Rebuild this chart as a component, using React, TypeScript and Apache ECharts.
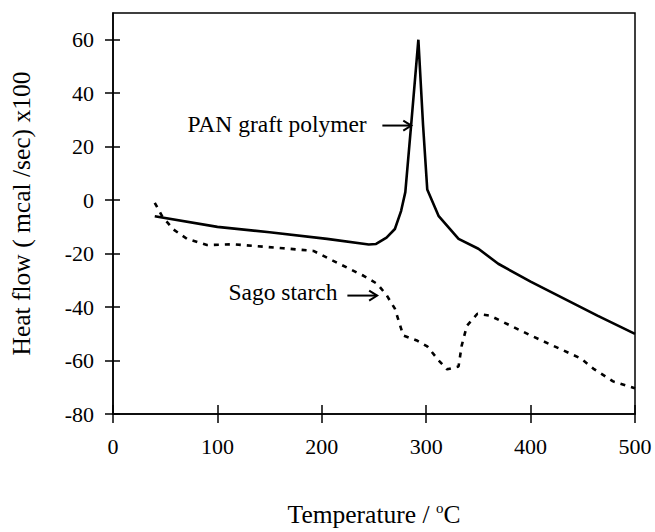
import React, { useEffect, useRef } from "react";
import * as echarts from "echarts";

// Temperature (°C) vs heat flow (mcal/sec x100)
const panTemp = [40, 100, 150, 205, 245, 252, 262, 270, 276, 280, 286, 292.5, 297, 301, 312, 331, 350, 369, 400, 464, 500];
const panFlow = [-6, -10, -12, -14.5, -16.6, -16.4, -14, -10.8, -4, 3, 30, 60, 28, 4, -6, -14.5, -18.2, -23.8, -30.5, -43.2, -50];

const sagoTemp = [40, 47, 58, 71, 90, 115, 163, 192, 211, 240, 253, 262, 270, 278, 291, 301, 312, 320, 331, 334, 339, 349, 361, 400, 448, 460, 479, 500];
const sagoFlow = [-1, -6, -11, -14.5, -16.8, -16.5, -18, -19, -22.7, -28.3, -31.3, -35.5, -40.6, -50.6, -52.5, -54.7, -60, -63.3, -62.2, -54.4, -47, -42.5, -43.2, -50.6, -59.2, -63, -67.8, -70.4];

const xTicks = [0, 100, 200, 300, 400, 500];
const yTicks = [-80, -60, -40, -20, 0, 20, 40, 60];

// annotations: label text, label anchor (right-middle), arrow from -> to (data coords)
const annLabels = ["PAN graft polymer", "Sago starch"];
const annTextAt = [[243, 28.3], [215, -34.3]];
const annArrowFrom = [[258, 27.9], [224.5, -35.7]];
const annArrowTo = [[285.7, 27.9], [253, -35.7]];

const FONT = '"Liberation Serif", "Times New Roman", serif';

export default function App() {
  const ref = useRef<HTMLDivElement>(null);
  useEffect(() => {
    const chart = echarts.init(ref.current!, null, { renderer: "svg" });
    const zip = (a: number[], b: number[]) => a.map((v, i) => [v, b[i]]);
    const baseX = { type: "value", min: xTicks[0], max: xTicks[xTicks.length - 1], interval: 100 };
    const baseY = { type: "value", min: -80, max: 70, interval: 20 };
    chart.setOption({
      animation: false,
      backgroundColor: "#fff",
      grid: { left: 113, right: 20, top: 13, bottom: 116, show: true, borderColor: "#000", borderWidth: 1.5, backgroundColor: "transparent" },
      xAxis: [
        {
          ...baseX,
          position: "bottom",
          name: "{a|Temperature / }{s|o}{a|C}",
          nameLocation: "middle",
          nameGap: 86,
          nameTextStyle: {
            rich: {
              a: { fontFamily: FONT, fontSize: 25.5, color: "#000" },
              s: { fontFamily: FONT, fontSize: 15, color: "#000", padding: [0, 0, 13, 0] },
            },
          },
          axisLine: { show: true, onZero: false, lineStyle: { color: "#000", width: 1.5 } },
          axisTick: { show: true, inside: false, length: 9, lineStyle: { color: "#000", width: 1.5 } },
          axisLabel: { color: "#000", fontFamily: FONT, fontSize: 22, margin: 21, formatter: (v: number) => (xTicks.includes(v) ? String(v) : "") },
          splitLine: { show: false },
        },
        {
          ...baseX,
          position: "bottom",
          axisLine: { show: false, onZero: false },
          axisTick: { show: true, inside: true, length: 9, lineStyle: { color: "#000", width: 1.5 } },
          axisLabel: { show: false },
          splitLine: { show: false },
        },
      ],
      yAxis: [
        {
          ...baseY,
          position: "left",
          name: "Heat flow ( mcal /sec) x100",
          nameLocation: "middle",
          nameGap: 79,
          nameTextStyle: { fontFamily: FONT, fontSize: 25.5, color: "#000" },
          axisLine: { show: true, onZero: false, lineStyle: { color: "#000", width: 1.5 } },
          axisTick: { show: true, inside: false, length: 8, customValues: yTicks, lineStyle: { color: "#000", width: 1.5 } },
          axisLabel: { color: "#000", fontFamily: FONT, fontSize: 22, margin: 19, customValues: yTicks, formatter: (v: number) => (yTicks.includes(v) ? String(v) : "") },
          splitLine: { show: false },
        },
        {
          ...baseY,
          position: "left",
          axisLine: { show: false, onZero: false },
          axisTick: { show: true, inside: true, length: 7, customValues: yTicks, lineStyle: { color: "#000", width: 1.5 } },
          axisLabel: { show: false },
          splitLine: { show: false },
        },
      ],
      series: [
        {
          name: "PAN graft polymer",
          type: "line",
          data: zip(panTemp, panFlow),
          showSymbol: false,
          symbol: "none",
          lineStyle: { color: "#000", width: 2.6 },
        },
        {
          name: "Sago starch",
          type: "line",
          data: zip(sagoTemp, sagoFlow),
          showSymbol: false,
          symbol: "none",
          lineStyle: { color: "#000", width: 2.6, type: [5, 6] },
        },
      ],
    });

    const px = (p: number[]) => chart.convertToPixel({ gridIndex: 0 }, p) as number[];
    const graphic: any[] = [];
    annLabels.forEach((label, i) => {
      const t = px(annTextAt[i]);
      const a = px(annArrowFrom[i]);
      const b = px(annArrowTo[i]);
      graphic.push({
        type: "text",
        x: t[0],
        y: t[1],
        style: { text: label, font: `23.5px ${FONT}`, fill: "#000", textAlign: "right", textVerticalAlign: "middle" },
      });
      graphic.push({
        type: "line",
        shape: { x1: a[0], y1: a[1], x2: b[0], y2: b[1] },
        style: { stroke: "#000", lineWidth: 2 },
      });
      graphic.push({
        type: "polyline",
        shape: { points: [[b[0] - 8, b[1] - 5], [b[0], b[1]], [b[0] - 8, b[1] + 5]] },
        style: { stroke: "#000", lineWidth: 2, fill: "none" },
      });
    });
    chart.setOption({ graphic });

    return () => chart.dispose();
  }, []);
  return <div ref={ref} style={{ position: "fixed", left: 0, top: 0, width: 655, height: 532 }} />;
}
